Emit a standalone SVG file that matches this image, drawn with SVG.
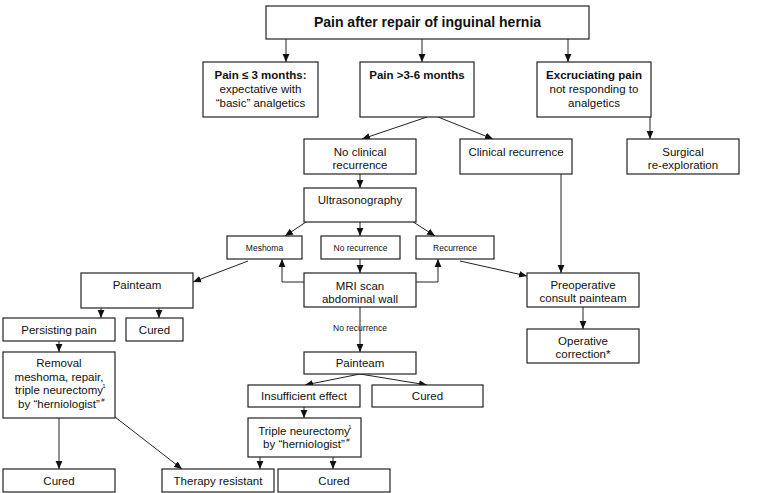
<svg xmlns="http://www.w3.org/2000/svg" width="768" height="493" viewBox="0 0 768 493">
  <defs>
    <marker id="arr" markerUnits="userSpaceOnUse" markerWidth="8" markerHeight="8" viewBox="0 0 8 8" refX="8" refY="4" orient="auto">
      <path d="M0,0.6 L8,4 L0,7.4 Z" fill="#111"/>
    </marker>
    <style>
      .box { fill: #fff; stroke: #222; stroke-width: 1.2; }
      .t { font-family: "Liberation Sans", Arial, sans-serif; font-size: 11.5px; fill: #111; text-anchor: middle; }
      .b { font-weight: bold; }
      .title { font-size: 14px; font-weight: bold; }
      .s { font-size: 8.5px; }
      .sup { font-size: 6px; }
      .c { fill: none; stroke: #222; stroke-width: 1; }
      .a { marker-end: url(#arr); }
    </style>
  </defs>
  <rect width="768" height="493" fill="#fff"/>

  <!-- connectors -->
  <g id="connectors">
    <line class="c a" x1="286" y1="39" x2="286" y2="62"/>
    <line class="c a" x1="422" y1="39" x2="422" y2="62"/>
    <line class="c a" x1="568" y1="39" x2="568" y2="62"/>
    <line class="c a" x1="427" y1="117" x2="362" y2="139"/>
    <line class="c a" x1="438" y1="117" x2="493" y2="139"/>
    <line class="c a" x1="650" y1="117" x2="650" y2="139"/>
    <line class="c a" x1="360" y1="162" x2="360" y2="188"/>
    <line class="c a" x1="315" y1="216" x2="285" y2="236"/>
    <line class="c a" x1="360" y1="216" x2="360" y2="236"/>
    <line class="c a" x1="404" y1="216" x2="435" y2="236"/>
    <line class="c a" x1="360" y1="259" x2="360" y2="273"/>
    <polyline class="c a" points="304,282 282,282 282,259"/>
    <polyline class="c a" points="416,282 438,282 438,259"/>
    <line class="c a" x1="248" y1="261" x2="193" y2="282"/>
    <line class="c a" x1="460" y1="261" x2="527" y2="276"/>
    <line class="c a" x1="561" y1="174" x2="561" y2="273"/>
    <line class="c a" x1="583" y1="307" x2="583" y2="329"/>
    <line class="c a" x1="101" y1="308" x2="101" y2="318"/>
    <line class="c a" x1="159" y1="308" x2="159" y2="318"/>
    <line class="c a" x1="59" y1="341" x2="59" y2="352"/>
    <line class="c a" x1="59" y1="418" x2="59" y2="469"/>
    <line class="c a" x1="115" y1="417" x2="182" y2="469"/>
    <line class="c a" x1="360" y1="307" x2="360" y2="352"/>
    <line class="c a" x1="360" y1="374" x2="305" y2="385"/>
    <line class="c a" x1="360" y1="374" x2="427" y2="385"/>
    <line class="c a" x1="304" y1="407" x2="304" y2="418"/>
    <line class="c a" x1="260" y1="457" x2="260" y2="469"/>
    <line class="c a" x1="333" y1="457" x2="333" y2="469"/>
    <text class="t s" x="360" y="331">No recurrence</text>
  </g>

  <g id="pain-after-repair">
    <rect class="box" x="266" y="6" width="323" height="33"/>
    <text class="t title" x="427.5" y="27">Pain after repair of inguinal hernia</text>
  </g>

  <g id="pain-le-3">
    <rect class="box" x="203" y="62" width="115" height="55"/>
    <text class="t b" x="260.5" y="79">Pain ≤ 3 months:</text>
    <text class="t" x="260.5" y="93">expectative with</text>
    <text class="t" x="260.5" y="107">“basic” analgetics</text>
  </g>

  <g id="pain-3-6">
    <rect class="box" x="360" y="62" width="114" height="55"/>
    <text class="t b" x="417" y="79">Pain &gt;3-6 months</text>
  </g>

  <g id="excruciating">
    <rect class="box" x="537" y="62" width="114" height="55"/>
    <text class="t b" x="594" y="79">Excruciating pain</text>
    <text class="t" x="594" y="93">not responding to</text>
    <text class="t" x="594" y="107">analgetics</text>
  </g>

  <g id="no-clinical-recurrence">
    <rect class="box" x="304" y="139" width="112" height="35"/>
    <text class="t" x="360" y="156">No clinical</text>
    <text class="t" x="360" y="169">recurrence</text>
  </g>

  <g id="clinical-recurrence">
    <rect class="box" x="460" y="139" width="112" height="35"/>
    <text class="t" x="516" y="156">Clinical recurrence</text>
  </g>

  <g id="surgical-reexploration">
    <rect class="box" x="627" y="139" width="112" height="35"/>
    <text class="t" x="683" y="156">Surgical</text>
    <text class="t" x="683" y="169">re-exploration</text>
  </g>

  <g id="ultrasonography">
    <rect class="box" x="304" y="188" width="112" height="34"/>
    <text class="t" x="360" y="204">Ultrasonography</text>
  </g>

  <g id="meshoma">
    <rect class="box" x="227" y="236" width="75" height="23"/>
    <text class="t s" x="264.5" y="250.5">Meshoma</text>
  </g>

  <g id="us-no-recurrence">
    <rect class="box" x="321" y="236" width="79" height="23"/>
    <text class="t s" x="360.5" y="250.5">No recurrence</text>
  </g>

  <g id="recurrence">
    <rect class="box" x="416" y="236" width="78" height="23"/>
    <text class="t s" x="455" y="250.5">Recurrence</text>
  </g>

  <g id="mri-scan">
    <rect class="box" x="304" y="273" width="112" height="34"/>
    <text class="t" x="360" y="290">MRI scan</text>
    <text class="t" x="360" y="303">abdominal wall</text>
  </g>

  <g id="painteam-left">
    <rect class="box" x="81" y="273" width="112" height="35"/>
    <text class="t" x="137" y="289">Painteam</text>
  </g>

  <g id="preoperative-consult">
    <rect class="box" x="527" y="273" width="112" height="34"/>
    <text class="t" x="583" y="289">Preoperative</text>
    <text class="t" x="583" y="302">consult painteam</text>
  </g>

  <g id="operative-correction">
    <rect class="box" x="527" y="329" width="112" height="34"/>
    <text class="t" x="583" y="345">Operative</text>
    <text class="t" x="583" y="358">correction*</text>
  </g>

  <g id="persisting-pain">
    <rect class="box" x="3" y="318" width="112" height="23"/>
    <text class="t" x="59" y="334">Persisting pain</text>
  </g>

  <g id="cured-1">
    <rect class="box" x="126" y="318" width="57" height="23"/>
    <text class="t" x="154.5" y="334">Cured</text>
  </g>

  <g id="removal-meshoma">
    <rect class="box" x="3" y="352" width="112" height="66"/>
    <text class="t" x="59" y="367">Removal</text>
    <text class="t" x="59" y="381">meshoma, repair,</text>
    <text class="t" x="59" y="394">triple neurectomy</text>
    <text class="t sup" x="104" y="388">1</text>
    <text class="t" x="59" y="408">by “herniologist”</text>
    <text class="t sup" x="103" y="402">#</text>
  </g>

  <g id="painteam-mid">
    <rect class="box" x="304" y="352" width="112" height="22"/>
    <text class="t" x="360" y="367">Painteam</text>
  </g>

  <g id="insufficient-effect">
    <rect class="box" x="248" y="385" width="112" height="22"/>
    <text class="t" x="304" y="400">Insufficient effect</text>
  </g>

  <g id="cured-2">
    <rect class="box" x="372" y="385" width="111" height="22"/>
    <text class="t" x="427.5" y="400">Cured</text>
  </g>

  <g id="triple-neurectomy">
    <rect class="box" x="248" y="418" width="113" height="39"/>
    <text class="t" x="304" y="435">Triple neurectomy</text>
    <text class="t sup" x="350" y="429">1</text>
    <text class="t" x="304" y="448">by “herniologist”</text>
    <text class="t sup" x="348" y="442">#</text>
  </g>

  <g id="cured-3">
    <rect class="box" x="3" y="469" width="112" height="23"/>
    <text class="t" x="59" y="485">Cured</text>
  </g>

  <g id="therapy-resistant">
    <rect class="box" x="162" y="469" width="112" height="23"/>
    <text class="t" x="218" y="485">Therapy resistant</text>
  </g>

  <g id="cured-4">
    <rect class="box" x="278" y="469" width="112" height="23"/>
    <text class="t" x="334" y="485">Cured</text>
  </g>
</svg>
